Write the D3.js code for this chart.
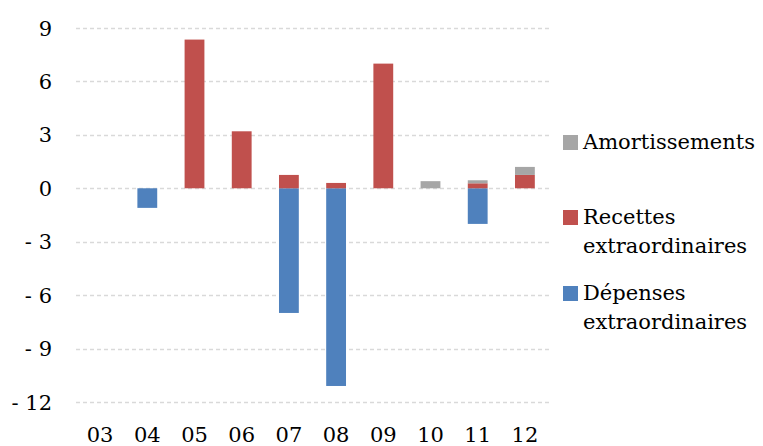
<!DOCTYPE html>
<html>
<head>
<meta charset="utf-8">
<script src="https://cdn.jsdelivr.net/npm/d3@7"></script>
<style>
  body { margin: 0; background: #fff; }
  svg text { font-family: "DejaVu Serif", "Liberation Serif", serif; fill: #000; }
</style>
</head>
<body>
<svg id="chart" width="763" height="446"></svg>
<script>
// Années (deux chiffres)
const years = ["03", "04", "05", "06", "07", "08", "09", "10", "11", "12"];
// Séries (milliards)
const amortissements = [0, 0, 0, 0, 0, 0, 0, 0.4, 0.17, 0.45];
const recettes = [0, 0, 8.35, 3.2, 0.75, 0.3, 7.0, 0, 0.28, 0.75];
const depenses = [0, -1.1, 0, 0, -7.0, -11.1, 0, 0, -2.0, 0];
const yTicks = [9, 6, 3, 0, -3, -6, -9, -12];
const seriesNames = ["Amortissements", "Recettes extraordinaires", "Dépenses extraordinaires"];
const colors = { amort: "#a6a6a6", rec: "#c0504d", dep: "#4f81bd" };

const svg = d3.select("#chart");
const x = d3.scaleBand().domain(years).range([76.5, 548.5]).paddingInner(0.58).paddingOuter(0.29);
const y = d3.scaleLinear().domain([-12, 9]).range([402, 28]);

// Grille pointillée
svg.append("g").selectAll("line").data(yTicks).join("line")
  .attr("x1", 76).attr("x2", 550)
  .attr("y1", d => Math.round(y(d)) + 0.5).attr("y2", d => Math.round(y(d)) + 0.5)
  .attr("stroke", "#d9d9d9").attr("stroke-width", 1.3).attr("stroke-dasharray", "4,3");

// Étiquettes de l'axe vertical
svg.append("g").selectAll("text").data(yTicks).join("text")
  .attr("x", 52).attr("y", d => y(d) + 7.5)
  .attr("text-anchor", "end").attr("font-size", 21)
  .text(d => d < 0 ? "- " + Math.abs(d) : String(d));

// Étiquettes de l'axe horizontal
svg.append("g").selectAll("text").data(years).join("text")
  .attr("x", d => x(d) + x.bandwidth() / 2).attr("y", 442)
  .attr("text-anchor", "middle").attr("font-size", 21)
  .text(d => d);

// Barres empilées
const rows = years.map((yr, i) => ({ yr, rec: recettes[i], amort: amortissements[i], dep: depenses[i] }));
const bars = svg.append("g");
bars.selectAll("rect.dep").data(rows.filter(r => r.dep < 0)).join("rect")
  .attr("x", r => x(r.yr)).attr("width", x.bandwidth())
  .attr("y", y(0)).attr("height", r => y(r.dep) - y(0))
  .attr("fill", colors.dep);
bars.selectAll("rect.rec").data(rows.filter(r => r.rec > 0)).join("rect")
  .attr("x", r => x(r.yr)).attr("width", x.bandwidth())
  .attr("y", r => y(r.rec)).attr("height", r => y(0) - y(r.rec))
  .attr("fill", colors.rec);
bars.selectAll("rect.amort").data(rows.filter(r => r.amort > 0)).join("rect")
  .attr("x", r => x(r.yr)).attr("width", x.bandwidth())
  .attr("y", r => y(r.rec + r.amort)).attr("height", r => y(r.rec) - y(r.rec + r.amort))
  .attr("fill", colors.amort);

// Légende
const legend = [
  { color: colors.amort, lines: ["Amortissements"], top: 135 },
  { color: colors.rec, lines: ["Recettes", "extraordinaires"], top: 210 },
  { color: colors.dep, lines: ["Dépenses", "extraordinaires"], top: 286 }
];
const lg = svg.append("g").selectAll("g").data(legend).join("g");
lg.append("rect").attr("x", 563).attr("y", d => d.top).attr("width", 15).attr("height", 15).attr("fill", d => d.color);
lg.each(function(d) {
  d3.select(this).selectAll("text").data(d.lines).join("text")
    .attr("x", 583).attr("y", (t, i) => d.top + 14 + i * 29)
    .attr("font-size", 21)
    .text(t => t);
});
</script>
</body>
</html>
